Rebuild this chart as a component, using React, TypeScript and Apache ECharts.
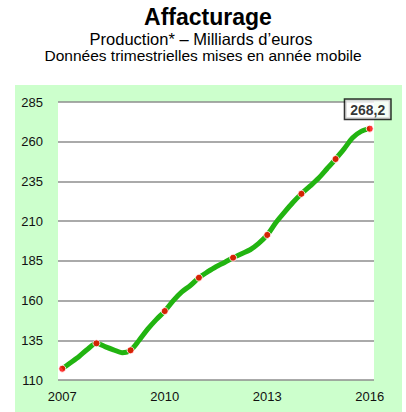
import React, { useEffect, useRef } from "react";
import * as echarts from "echarts";

const quarters: string[] = [];
for (let y = 2007; y <= 2016; y++) {
  for (let q = 1; q <= 4; q++) {
    if (y === 2016 && q > 1) break;
    quarters.push(`${y} T${q}`);
  }
}

const production = [
  117.1, 121, 125, 129.5,
  133.1, 131, 129, 127.2,
  128.7, 135, 142, 148,
  153.4, 160, 165.5, 169.5,
  174.4, 178, 181.3, 184,
  187, 189.5, 192, 196,
  201.3, 209, 215.5, 221.7,
  227.2, 232, 237, 243,
  249.1, 255.5, 262.5, 266.5,
  268.2,
];

const yearLabels = ["2007", "2010", "2013", "2016"];
const yMin = 110;
const yMax = 285;
const yStep = 25;

const title = "Affacturage";
const subtitle1 = "Production* \u2013 Milliards d\u2019euros";
const subtitle2 = "Donn\u00e9es trimestrielles mises en ann\u00e9e mobile";

export default function App() {
  const ref = useRef<HTMLDivElement>(null);
  useEffect(() => {
    if (!ref.current) return;
    const chart = echarts.init(ref.current, null, { renderer: "svg" });
    const font = "'Liberation Sans', Arial, sans-serif";
    const yearly = production.map((v, i) => (i % 4 === 0 ? v : "-"));
    const lastIdx = production.length - 1;
    chart.setOption({
      animation: false,
      textStyle: { fontFamily: font },
      graphic: [
        {
          type: "rect",
          shape: { x: 15, y: 85, width: 387, height: 330 },
          style: { fill: "#ccffcc" },
          z: -10,
          silent: true,
        },
        {
          type: "text",
          x: 208,
          y: 16.5,
          style: {
            text: title,
            font: `bold 23px ${font}`,
            fill: "#000",
            align: "center",
            verticalAlign: "middle",
          },
        },
        {
          type: "text",
          x: 201,
          y: 39.4,
          style: {
            text: subtitle1,
            font: `16.5px ${font}`,
            fill: "#000",
            align: "center",
            verticalAlign: "middle",
          },
        },
        {
          type: "text",
          x: 203,
          y: 55.6,
          style: {
            text: subtitle2,
            font: `15.5px ${font}`,
            fill: "#000",
            align: "center",
            verticalAlign: "middle",
          },
        },
      ],
      grid: {
        left: 58,
        right: 32,
        top: 102,
        bottom: 32,
        show: true,
        backgroundColor: "#ffffff",
        borderWidth: 0,
      },
      xAxis: {
        type: "category",
        data: quarters,
        boundaryGap: true,
        axisLine: { show: false },
        axisTick: { show: false },
        axisLabel: {
          interval: 11,
          margin: 10,
          fontSize: 13,
          color: "#111",
          fontFamily: font,
          formatter: (v: string) => {
            const y = v.slice(0, 4);
            return yearLabels.includes(y) ? y : "";
          },
        },
        splitLine: { show: false },
      },
      yAxis: {
        type: "value",
        min: yMin,
        max: yMax,
        interval: yStep,
        axisLine: { show: false },
        axisTick: { show: false },
        axisLabel: { margin: 15, fontSize: 13, color: "#111", fontFamily: font },
        splitLine: { lineStyle: { color: "#8e8e8e", width: 1.5 } },
      },
      series: [
        {
          type: "line",
          data: production,
          smooth: 0.3,
          symbol: "none",
          lineStyle: { color: "#22b411", width: 5 },
          z: 2,
        },
        {
          type: "scatter",
          data: yearly.map((v, i) =>
            i === lastIdx
              ? {
                  value: v,
                  label: {
                    show: true,
                    position: "top",
                    distance: 6,
                    offset: [-2, 0],
                    formatter: () => String(production[lastIdx]).replace(".", ","),
                    fontSize: 14,
                    fontWeight: "bold",
                    color: "#000",
                    fontFamily: font,
                    backgroundColor: "#fff",
                    borderColor: "#000",
                    borderWidth: 1.5,
                    padding: [3, 5, 2, 5],
                  },
                }
              : v
          ),
          symbol: "circle",
          symbolSize: 7,
          itemStyle: { color: "#ff0000", borderColor: "#ffffff", borderWidth: 1 },
          z: 3,
        },
      ],
    });
    return () => chart.dispose();
  }, []);
  return (
    <div
      ref={ref}
      style={{ position: "absolute", left: 0, top: 0, width: 406, height: 412 }}
    />
  );
}
